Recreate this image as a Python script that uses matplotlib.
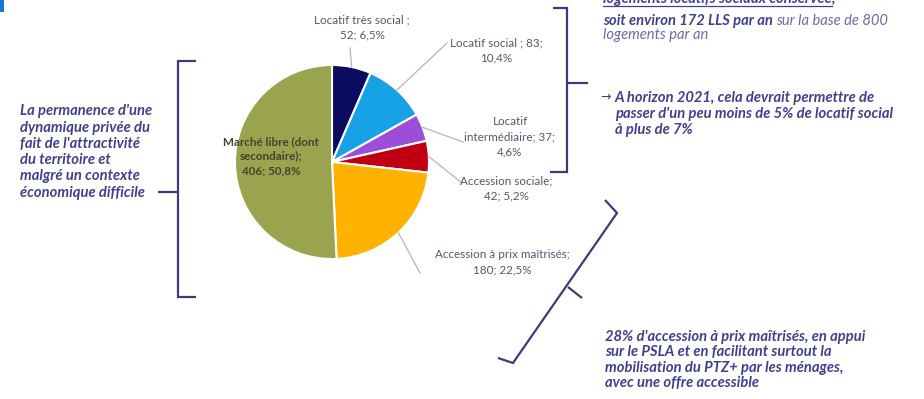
import numpy as np
import matplotlib.pyplot as plt

W, H = 924, 399

categories = [
    "Locatif très social",
    "Locatif social",
    "Locatif intermédiaire",
    "Accession sociale",
    "Accession à prix maîtrisés",
    "Marché libre (dont secondaire)",
]
logements = [52, 83, 37, 42, 180, 406]
labels = [
    "Locatif très social ;\n52; 6,5%",
    "Locatif social ; 83;\n10,4%",
    "Locatif\nintermédiaire; 37;\n4,6%",
    "Accession sociale;\n42; 5,2%",
    "Accession à prix maîtrisés;\n180; 22,5%",
    "Marché libre (dont\nsecondaire);\n406; 50,8%",
]
colors = ["#0b0b62", "#17a2e6", "#9b4fd8", "#c00012", "#ffb300", "#9aa34e"]

FONT = ["Lato", "DejaVu Sans"]
NOTE = "#40408e"
NOTE_LIGHT = "#6b6baa"
LABEL = "#5b5470"
BRACKET = "#3c3c7a"
FS = 10.6
LFS = 8.4

plt.rcParams["font.family"] = FONT

fig = plt.figure(figsize=(W / 100, H / 100), dpi=100)
ax = fig.add_axes([0, 0, 1, 1])


def py(y):
    # positions below are measured from the top edge
    return H - y


cx, cy, r = 332, 162, 97
wedges, _ = ax.pie(logements, colors=colors, startangle=90, counterclock=False,
                   center=(cx, py(cy)), radius=r,
                   wedgeprops=dict(edgecolor="white", linewidth=1.5))
ax.set_xlim(0, W)
ax.set_ylim(0, H)
ax.set_aspect("equal")
ax.axis("off")

# label centre and leader-line end for each slice (None = label inside slice)
label_pos = [(362, 27), (496, 50), (510, 137), (506, 188), (502, 262), (271, 156)]
leader_end = [(350, 48), (447, 43), (463, 142), (462, 183), (420, 273), None]

for w, lab, (lx, ly), end in zip(wedges, labels, label_pos, leader_end):
    mid = np.deg2rad((w.theta1 + w.theta2) / 2)
    if end is not None:
        ex, ey = cx + r * np.cos(mid), py(cy) + r * np.sin(mid)
        ax.plot([ex, end[0]], [ey, py(end[1])], color="#b4b4bc", lw=0.9, zorder=1)
        ax.text(lx, py(ly), lab, ha="center", va="center", fontsize=LFS,
                color=LABEL, linespacing=1.45)
    else:
        ax.text(lx, py(ly), lab, ha="center", va="center", fontsize=LFS,
                color="#4a4030", fontweight="bold", linespacing=1.4)


def bracket(points):
    xs, ys = zip(*points)
    ax.plot(xs, [py(y) for y in ys], color=BRACKET, lw=1.6,
            solid_joinstyle="miter", solid_capstyle="butt")


# left brace
bracket([(196, 61), (178, 61), (178, 297), (196, 297)])
bracket([(158, 192), (178, 192)])
# top-right brace
bracket([(553, 8), (567, 8), (567, 172), (550, 172)])
bracket([(567, 83), (588, 83)])
# slanted brace
bracket([(605, 200), (617, 213), (513, 363), (498, 358)])
bracket([(568, 287), (582, 298)])

# small blue mark in the corner
ax.add_patch(plt.Rectangle((0, py(12)), 4, 12, color="#1a73d8", lw=0))

note_kw = dict(fontsize=FS, fontstyle="italic", fontweight="bold", color=NOTE,
               va="center", ha="left")

ax.text(20, py(152),
        "La permanence d'une\ndynamique privée du\nfait de l'attractivité\n"
        "du territoire et\nmalgré un contexte\néconomique difficile",
        linespacing=1.2, **note_kw)

# top-right notes, first line clipped by the top edge
t = ax.text(603, py(3), "logements locatifs sociaux conservée", fontsize=FS,
            fontstyle="italic", fontweight="bold", color=NOTE, va="baseline")
fig.canvas.draw()
bb = t.get_window_extent().transformed(ax.transData.inverted())
ax.plot([bb.x0, bb.x1], [py(6), py(6)], color=NOTE, lw=0.9)
ax.text(bb.x1, py(3), ",", fontsize=FS, fontstyle="italic", fontweight="bold",
        color=NOTE, va="baseline")

t2 = ax.text(603, py(21), "soit environ 172 LLS par an ", fontsize=FS,
             fontstyle="italic", fontweight="bold", color=NOTE, va="center")
fig.canvas.draw()
bb2 = t2.get_window_extent().transformed(ax.transData.inverted())
ax.text(bb2.x1, py(21), "sur la base de 800", fontsize=FS, fontstyle="italic",
        color=NOTE_LIGHT, va="center")
ax.text(603, py(35), "logements par an", fontsize=FS, fontstyle="italic",
        color=NOTE_LIGHT, va="center")

ax.text(600, py(97), "→", fontsize=9, color=NOTE, va="center", family=["DejaVu Sans"])
ax.text(615, py(114),
        "A horizon 2021, cela devrait permettre de\npasser d'un peu moins de 5% de locatif social\nà plus de 7%",
        linespacing=1.2, **note_kw)

ax.text(605, py(360),
        "28% d'accession à prix maîtrisés, en appui\nsur le PSLA et en facilitant surtout la\n"
        "mobilisation du PTZ+ par les ménages,\navec une offre accessible",
        linespacing=1.1, **note_kw)

fig.savefig("out.png", dpi=100)
